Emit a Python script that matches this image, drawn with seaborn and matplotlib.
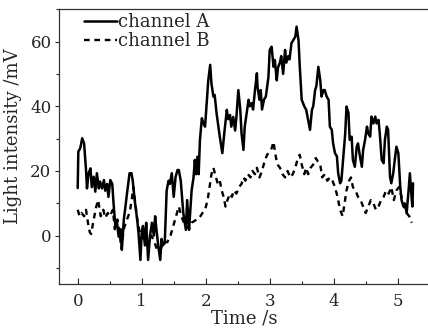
import matplotlib
matplotlib.use("Agg")
import matplotlib.pyplot as plt
import seaborn as sns
import numpy as np
from matplotlib.ticker import MultipleLocator

# ---- data ----
time_a = [0.00, 0.01, 0.04, 0.07, 0.10, 0.13, 0.145, 0.17, 0.20, 0.22, 0.25, 0.275, 0.30, 0.33,
          0.35, 0.38, 0.41, 0.43, 0.46, 0.48, 0.51, 0.54, 0.56, 0.59, 0.61, 0.64, 0.67, 0.69,
          0.72, 0.74, 0.77, 0.81, 0.84, 0.86, 0.89, 0.93, 0.95, 0.98, 1.00, 1.02, 1.05, 1.07,
          1.10, 1.13, 1.16, 1.19, 1.21, 1.23, 1.26, 1.29, 1.31, 1.33, 1.36, 1.39, 1.42, 1.44,
          1.47, 1.50, 1.53, 1.56, 1.58, 1.61, 1.65, 1.69, 1.71, 1.74, 1.78, 1.81, 1.83, 1.85,
          1.87, 1.89, 1.91, 1.94, 1.96, 1.99, 2.02, 2.04, 2.07, 2.09, 2.12, 2.14, 2.17, 2.22,
          2.26, 2.29, 2.33, 2.35, 2.38, 2.40, 2.43, 2.46, 2.48, 2.51, 2.54, 2.56, 2.59, 2.61,
          2.64, 2.67, 2.69, 2.72, 2.74, 2.77, 2.80, 2.81, 2.84, 2.86, 2.88, 2.91, 2.94, 2.98,
          3.00, 3.03, 3.06, 3.08, 3.11, 3.13, 3.16, 3.18, 3.21, 3.24, 3.26, 3.29, 3.31, 3.34,
          3.37, 3.40, 3.42, 3.45, 3.47, 3.50, 3.54, 3.57, 3.60, 3.63, 3.66, 3.68, 3.71, 3.73,
          3.76, 3.79, 3.81, 3.84, 3.86, 3.89, 3.92, 3.94, 3.97, 3.99, 4.02, 4.05, 4.07, 4.10,
          4.12, 4.15, 4.18, 4.20, 4.23, 4.25, 4.28, 4.30, 4.33, 4.36, 4.38, 4.41, 4.44, 4.46,
          4.49, 4.52, 4.54, 4.57, 4.59, 4.62, 4.65, 4.67, 4.70, 4.72, 4.75, 4.78, 4.80, 4.83,
          4.85, 4.88, 4.90, 4.93, 4.96, 4.98, 5.01, 5.04, 5.06, 5.09, 5.11, 5.14, 5.17, 5.19,
          5.22, 5.23, 5.24]
light_a = [14.7, 26, 27, 30.1, 28.5, 20.3, 14.6, 19.3, 20.8, 15, 18.2, 13.6, 19.3, 14.6,
           16.7, 14.6, 17.2, 13.9, 16, 12, 17.2, 16, 10, 2.8, 4.8, -0.3, 2, -4.4,
           4.9, 8, 13, 19.3, 19.3, 17, 11, 4.9, 0.8, -7.5, 1, 3, -3, 4,
           -7.5, 0, 4, 0, 6, 2, -3.4, -7.5, -1, -3, -2.3, 14, 17, 16,
           19.3, 12, 18.2, 20.3, 20.3, 17, 7, 1.8, 11, 1.8, 14, 18, 23.4, 19,
           24.4, 19, 29.6, 36.3, 35, 33.7, 42, 48, 52.8, 47, 43, 43.5, 37.8, 30.6,
           25.5, 31.6, 38.9, 36, 37.3, 33.7, 36.7, 32.5, 36.7, 45, 39, 31.6, 26.5, 33.7,
           37.8, 42, 40, 41, 39, 45, 50.2, 46, 42, 45, 39, 42, 43, 49,
           57.4, 58.4, 52.2, 54.3, 48, 52, 53.5, 55.5, 50, 57.4, 53.5, 55.5, 54.5, 59.5,
           60.5, 61.5, 64.6, 60.5, 52.2, 42, 40, 38.9, 35.8, 32.7, 38.9, 40, 45, 46.3,
           52.2, 48, 43, 45, 45, 43, 42, 33.7, 32.7, 28.6, 25.5, 24.5, 19.3, 16.2,
           17, 24.5, 31.6, 39.9, 38, 29.6, 30.6, 23.4, 21.3, 27.5, 28.5, 24.5, 21.3, 26.5,
           29.6, 33.7, 31.6, 30.6, 36.8, 34.7, 36.8, 34.7, 35.8, 31.6, 23.4, 22.4, 29.6, 33.7,
           32.7, 18.2, 16.2, 19.3, 24.4, 27.5, 25.5, 15.1, 11, 9, 10, 7, 14, 19.3,
           11, 9, 16.2]

time_b = [0.00, 0.03, 0.06, 0.10, 0.13, 0.16, 0.19, 0.21, 0.25, 0.29, 0.32, 0.36, 0.40, 0.43,
          0.47, 0.50, 0.55, 0.58, 0.62, 0.66, 0.68, 0.72, 0.75, 0.79, 0.82, 0.85, 0.87, 0.90,
          0.93, 0.96, 1.00, 1.05, 1.10, 1.15, 1.20, 1.25, 1.30, 1.35, 1.40, 1.45, 1.50, 1.55,
          1.58, 1.62, 1.66, 1.70, 1.74, 1.78, 1.82, 1.86, 1.90, 1.95, 1.99, 2.03, 2.06, 2.09,
          2.12, 2.16, 2.19, 2.22, 2.25, 2.28, 2.31, 2.34, 2.38, 2.41, 2.44, 2.48, 2.52, 2.56,
          2.59, 2.62, 2.66, 2.70, 2.73, 2.77, 2.80, 2.84, 2.88, 2.92, 2.96, 3.00, 3.03, 3.06,
          3.09, 3.12, 3.16, 3.20, 3.24, 3.28, 3.32, 3.36, 3.40, 3.44, 3.47, 3.50, 3.54, 3.57,
          3.60, 3.64, 3.68, 3.72, 3.75, 3.79, 3.82, 3.86, 3.90, 3.94, 3.98, 4.02, 4.06, 4.10,
          4.14, 4.17, 4.20, 4.24, 4.27, 4.30, 4.34, 4.38, 4.42, 4.46, 4.50, 4.54, 4.58, 4.62,
          4.66, 4.70, 4.74, 4.78, 4.82, 4.86, 4.90, 4.94, 4.98, 5.02, 5.06, 5.10, 5.14, 5.18,
          5.22]
light_b = [8, 6, 7, 6, 8, 4, 1, 0.5, 5, 9, 11, 6, 8, 5.5,
           7, 6, 8, 2, 5, 0, -4, 2, 4, 6, 8, 12, 15, 10,
           5, 2, -1, 1, -3, 0, -2, -5, -4, -2, -2, 0, 3.5, 7,
           9, 6, 4, 3, 2, 4, 4.5, 5, 5.5, 7, 8, 11, 15, 19,
           21, 18, 16, 17, 14, 12, 9, 11, 13, 12, 14, 13, 15, 16,
           18, 17, 19, 18, 20, 19, 21, 18, 20, 23, 25, 26, 27, 29,
           25, 22, 21, 19, 18, 20, 18, 19, 21, 24, 25, 22, 19, 21,
           19, 21, 22, 24, 23, 22, 18, 19, 17, 18, 17, 15, 12, 8,
           6, 10, 14, 17, 18, 15, 14, 12, 11, 9, 7, 9, 11, 10,
           8, 9, 11, 12, 14, 13, 15, 11, 14, 15, 12, 9, 7, 6,
           4]

x_ticks = [0, 1, 2, 3, 4, 5]
y_ticks = [0, 20, 40, 60]

# ---- figure ----
sns.set_style("ticks")
plt.rcParams['font.family'] = ['DejaVu Serif']
plt.rcParams['mathtext.fontset'] = 'dejavuserif'

fig = plt.figure(figsize=(4.28, 3.31), dpi=100)
ax = fig.add_axes([58.5 / 428, 1 - 284.2 / 331, 371.2 / 428, 275 / 331])

sns.lineplot(x=time_a, y=light_a, ax=ax, color='black', lw=1.8,
             estimator=None, sort=False, label='channel A')
sns.lineplot(x=time_b, y=light_b, ax=ax, color='black', lw=1.7,
             estimator=None, sort=False, label='channel B',
             linestyle=(0, (2.4, 2.0)))

ax.set_xlim(-0.3, 5.5)
ax.set_ylim(-15, 70)
ax.set_xticks(x_ticks)
ax.set_yticks(y_ticks)
ax.xaxis.set_minor_locator(MultipleLocator(0.5))
ax.yaxis.set_minor_locator(MultipleLocator(10))
ax.tick_params(axis='x', which='major', direction='in', length=4, width=0.8, labelsize=12, pad=6)
ax.tick_params(axis='x', which='minor', direction='in', length=2.5, width=0.8)
ax.tick_params(axis='y', which='major', direction='out', length=3, width=0.8, labelsize=12, pad=2)
ax.tick_params(axis='y', which='minor', direction='out', length=2, width=0.8)
for s in ax.spines.values():
    s.set_linewidth(0.9)
    s.set_color('#333333')

ax.set_xlabel('Time /s', fontsize=13, labelpad=0)
ax.set_ylabel('Light intensity /mV', fontsize=13)
ax.yaxis.set_label_coords(-0.097, 0.54)

leg = ax.legend(loc='upper left', frameon=False, fontsize=13, handlelength=1.8,
                handletextpad=0.1, labelspacing=0.05, borderaxespad=0.2,
                bbox_to_anchor=(0.04, 1.025))

fig.savefig('out.png', dpi=100)
